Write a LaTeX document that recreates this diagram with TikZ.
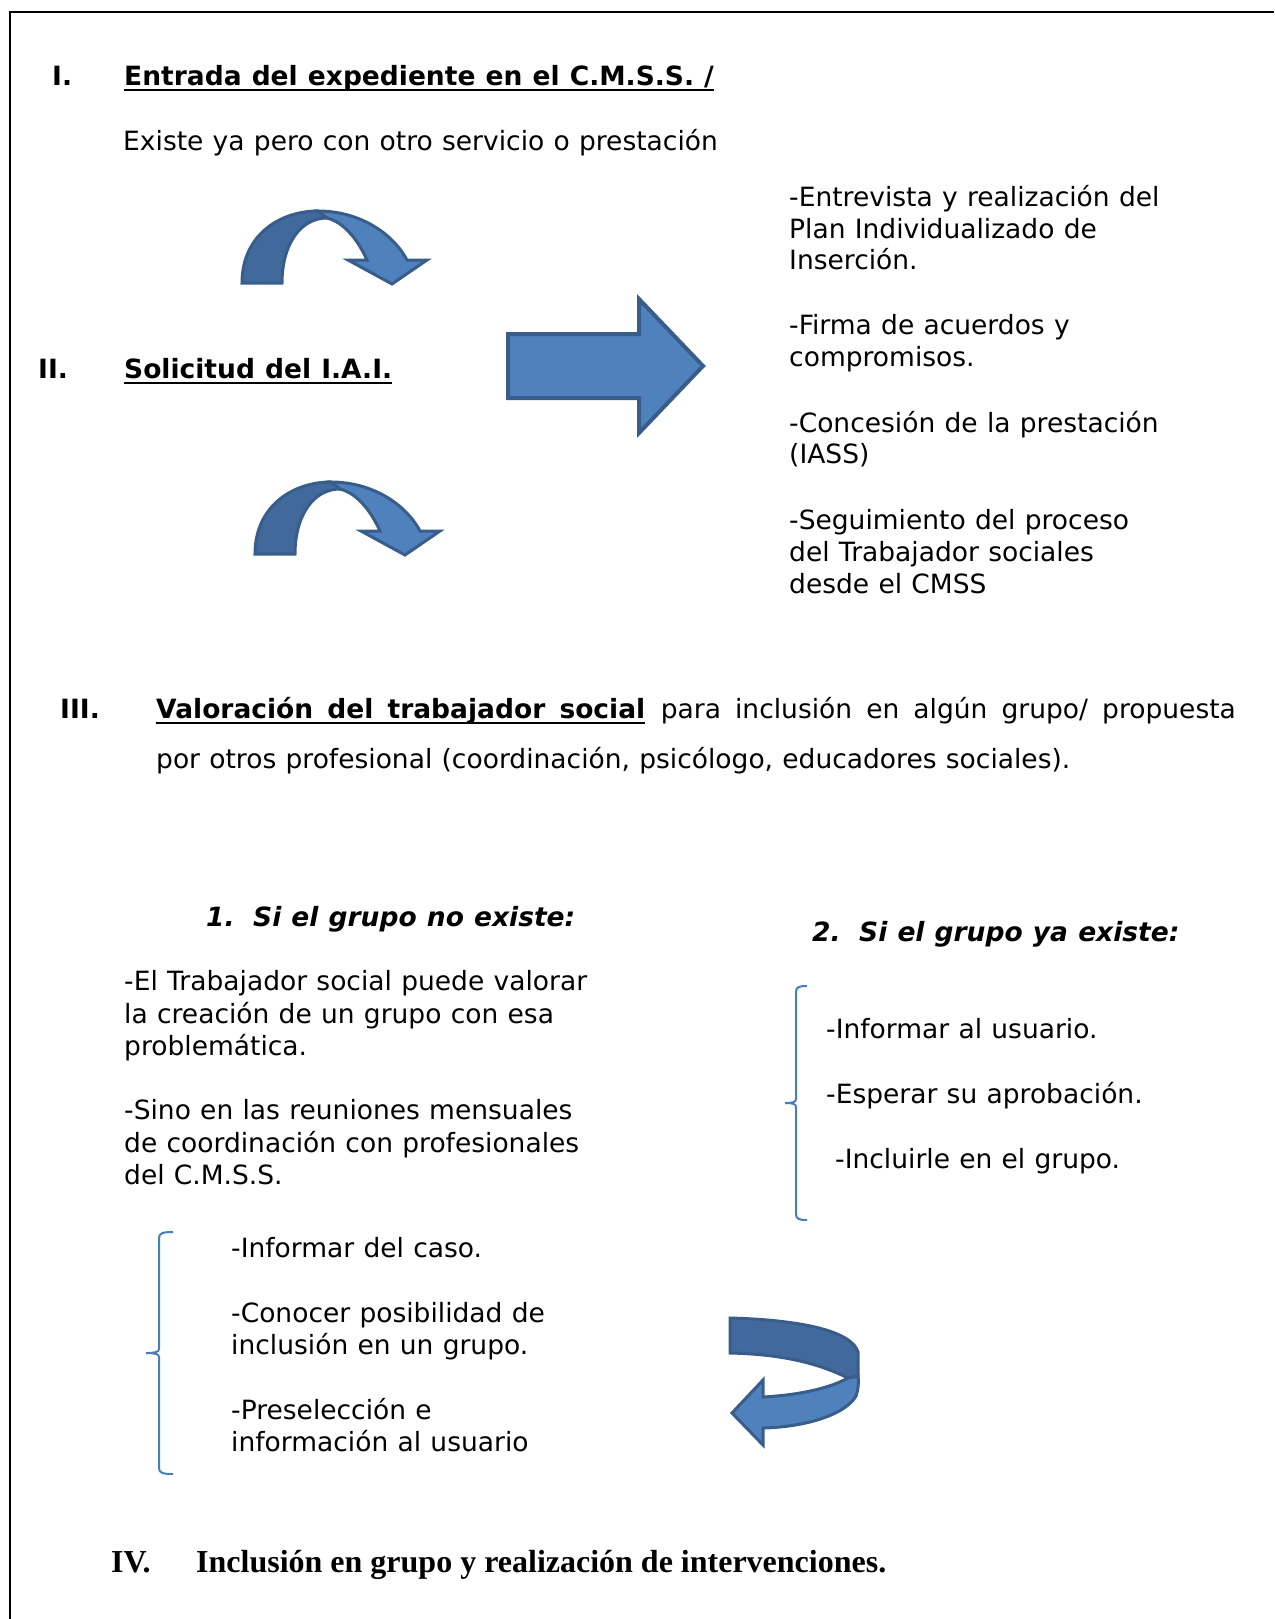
\documentclass[tikz,border=0pt]{standalone}
\usepackage{fontspec}
\setmainfont{DejaVu Sans}[WordSpace=1.1]
\newfontfamily\tnr{Liberation Serif}
\definecolor{lightblue}{HTML}{4F81BD}
\definecolor{darkblue}{HTML}{41699C}
\definecolor{edgeblue}{HTML}{385D8A}
\definecolor{bracecol}{HTML}{4A7EBB}
\tikzset{
  txt/.style={inner sep=0pt, anchor=base west, font=\fontsize{26.5}{31.7}\selectfont},
  bld/.style={txt, font=\fontsize{26.5}{31.7}\selectfont\bfseries},
  bit/.style={txt, font=\fontsize{26.5}{31.7}\selectfont\bfseries\itshape},
  tms/.style={txt, font=\tnr\fontsize{32}{38}\selectfont\bfseries},
  ul/.style={line width=1.8pt},
  darkpart/.style={fill=darkblue, draw=edgeblue, line width=3pt},
  lightpart/.style={fill=lightblue, draw=edgeblue, line width=3pt},
  bracestyle/.style={draw=bracecol, line width=2pt},
  curvarrow/.pic={
    \filldraw[darkpart] (242,283) .. controls (242,235) and (280,211) .. (318,211)
      -- (327,218) .. controls (300,218) and (282,245) .. (282,283) -- cycle;
    \filldraw[lightpart] (318,211) .. controls (358,211) and (392,232) .. (407,260)
      -- (427,260) -- (392,284) -- (348,260) -- (367,260)
      .. controls (357,238) and (343,222) .. (327,218) -- cycle;
  }
}
\begin{document}
\begin{tikzpicture}[x=1pt,y=-1pt]
\useasboundingbox (0,0) rectangle (1274,1619);
% frame
\draw[line width=2pt] (9.5,1619) -- (9.5,12) -- (1274,12);

% Section I
\node[bld] (nI) at (52,85) {I.};
\node[bld] (tI) at (124,85) {Entrada del expediente en el C.M.S.S. /};
\draw[ul] ([yshift=-5pt]tI.base west) -- ([yshift=-5pt]tI.base east);
\node[txt] (ex) at (123,150) {Existe ya pero con otro servicio o prestación};

% Section II
\node[bld] (nII) at (38,378) {II.};
\node[bld] (tII) at (124,378) {Solicitud del I.A.I.};
\draw[ul] ([yshift=-5pt]tII.base west) -- ([yshift=-5pt]tII.base east);

% right column
\node[txt] (r1a) at (789,206) {-Entrevista y realización del};
\node[txt] (r1b) at (789,238) {Plan Individualizado de};
\node[txt] (r1c) at (789,269) {Inserción.};
\node[txt] (r2a) at (789,334) {-Firma de acuerdos y};
\node[txt] (r2b) at (789,366) {compromisos.};
\node[txt] (r3a) at (789,432) {-Concesión de la prestación};
\node[txt] (r3b) at (789,463) {(IASS)};
\node[txt] (r4a) at (789,529) {-Seguimiento del proceso};
\node[txt] (r4b) at (789,561) {del Trabajador sociales};
\node[txt] (r4c) at (789,593) {desde el CMSS};

% curved arrows
\pic at (0,0) {curvarrow};
\begin{scope}
  \clip (0,300) rectangle (1274,556);
  \pic at (13,271) {curvarrow};
\end{scope}

% big right arrow
\filldraw[lightpart, line width=4pt] (508,334) -- (639,334) -- (639,299) -- (703,366)
  -- (639,433) -- (639,398) -- (508,398) -- cycle;

% Section III
\node[bld] (nIII) at (60,718) {III.};
\node[bld] (tIII) at (156,718) {\makebox[489pt][s]{Valoración del trabajador social}};
\draw[ul] ([yshift=-5pt]tIII.base west) -- ([yshift=-5pt]tIII.base east);
\node[txt, anchor=base east] (tIIIb) at (1236,718) {\makebox[575pt][s]{para inclusión en algún grupo/ propuesta}};
\node[txt] (tIIIc) at (156,768) {por otros profesional (coordinación, psicólogo, educadores sociales).};

% group headings
\node[bit] (g1) at (206,926) {1.};
\node[bit] (g1t) at (253,926) {Si el grupo no existe:};
\node[bit] (g2) at (812,941) {2.};
\node[bit] (g2t) at (859,941) {Si el grupo ya existe:};

% left column
\node[txt] (l1a) at (124,990) {-El Trabajador social puede valorar};
\node[txt] (l1b) at (124,1023) {la creación de un grupo con esa};
\node[txt] (l1c) at (124,1055) {problemática.};
\node[txt] (l2a) at (124,1119) {-Sino en las reuniones mensuales};
\node[txt] (l2b) at (124,1152) {de coordinación con profesionales};
\node[txt] (l2c) at (124,1184) {del C.M.S.S.};

% right brace + items
\draw[bracestyle] (807,986) .. controls (799,986) and (796,987) .. (796,992) -- (796,1099)
  .. controls (796,1102) and (793,1103) .. (785,1103);
\draw[bracestyle] (785,1103) .. controls (793,1103) and (796,1104) .. (796,1107) -- (796,1214)
  .. controls (796,1219) and (799,1220) .. (807,1220);
\node[txt] (s1) at (826,1038) {-Informar al usuario.};
\node[txt] (s2) at (826,1103) {-Esperar su aprobación.};
\node[txt] (s3) at (835,1168) {-Incluirle en el grupo.};

% left brace + items
\draw[bracestyle] (173,1232) .. controls (163,1232) and (159,1233) .. (159,1238) -- (159,1349)
  .. controls (159,1352) and (155,1353) .. (146,1353);
\draw[bracestyle] (146,1353) .. controls (155,1353) and (159,1354) .. (159,1357) -- (159,1468)
  .. controls (159,1473) and (163,1474) .. (173,1474);
\node[txt] (b1) at (231,1257) {-Informar del caso.};
\node[txt] (b2a) at (231,1322) {-Conocer posibilidad de};
\node[txt] (b2b) at (231,1354) {inclusión en un grupo.};
\node[txt] (b3a) at (231,1419) {-Preselección e};
\node[txt] (b3b) at (231,1451) {información al usuario};

% curved left arrow
\filldraw[darkpart] (730,1318) .. controls (805,1320) and (852,1332) .. (858,1352)
  -- (858,1376) -- (848,1378) .. controls (812,1360) and (772,1354) .. (730,1353) -- cycle;
\filldraw[lightpart] (858,1376) .. controls (859,1384) and (858,1390) .. (856,1396)
  .. controls (845,1415) and (805,1427) .. (763,1428)
  -- (763,1445) -- (732,1413) -- (763,1380) -- (763,1397)
  .. controls (800,1395) and (830,1388) .. (848,1378) -- cycle;

% Section IV
\node[tms] (nIV) at (111,1572) {IV.};
\node[tms] (tIV) at (196,1572) {Inclusión en grupo y realización de intervenciones.};
\end{tikzpicture}
\end{document}
